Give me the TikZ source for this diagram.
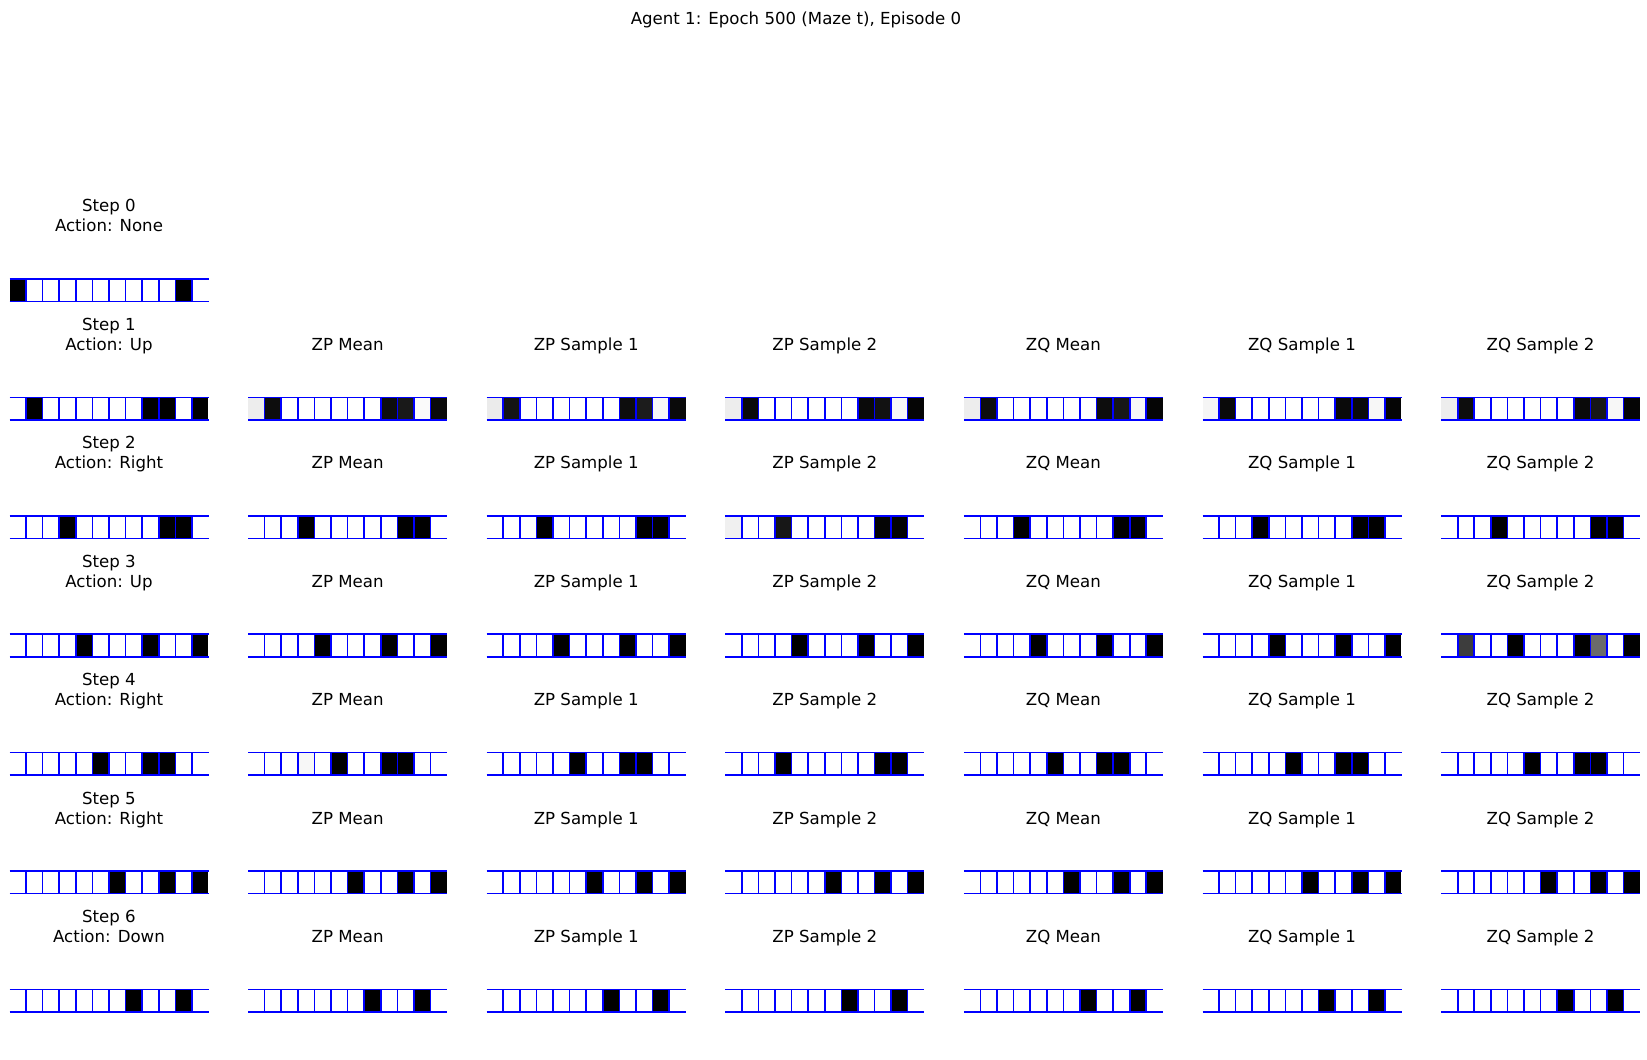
\documentclass[tikz,border=0pt]{standalone}
\usepackage{fontspec}
\setmainfont{DejaVu Sans}
\definecolor{GridBlue}{HTML}{0000FF}

\begin{document}
\begin{tikzpicture}[x=0.5pt,y=-0.5pt,
  ttl/.style={font=\fontsize{8.3}{10}\selectfont,align=center,anchor=base,inner sep=0pt},
  gridline/.style={draw=GridBlue,line width=0.8pt}]
  \useasboundingbox[fill=white] (0,0) rectangle (1647,1059);
  \node[ttl] (main) at (796,25) {Agent 1: Epoch 500 (Maze t), Episode 0};
  % titles of the first column
  \foreach \r/\act in {0/None,1/Up,2/Right,3/Up,4/Right,5/Right,6/Down}
    \node[ttl] (step\r) at (109,{279+118.4*\r-47}) {Step \r\\Action: \act};
  % titles of the latent columns
  \foreach \r in {1,...,6}
    \foreach \c/\lbl in {1/ZP Mean,2/ZP Sample 1,3/ZP Sample 2,4/ZQ Mean,5/ZQ Sample 1,6/ZQ Sample 2}
      \node[ttl] (t\r-\c) at ({109+238.6*\c},{279+118.4*\r-47}) {\lbl};
  % strips: row/column/{cell/darkness}
  \foreach \r/\c/\cells in {
    0/0/{0/100,10/100},
    1/0/{1/100,8/100,9/100,11/100},
    1/1/{0/7,1/95,8/95,9/90,10/2,11/96},
    1/2/{0/8,1/92,8/95,9/89,10/3,11/96},
    1/3/{0/7,1/96,8/96,9/93,10/3,11/98},
    1/4/{0/7,1/95,8/95,9/91,10/3,11/98},
    1/5/{0/4,1/96,8/96,9/96,10/3,11/98},
    1/6/{0/7,1/95,8/96,9/91,10/3,11/98},
    2/0/{3/100,9/100,10/100}, 2/1/{3/100,9/100,10/100},
    2/2/{3/100,9/100,10/100}, 2/3/{0/6,3/91,9/98,10/99},
    2/4/{3/100,9/100,10/100}, 2/5/{3/100,9/100,10/100},
    2/6/{3/100,9/100,10/100},
    3/0/{4/100,8/100,11/100}, 3/1/{4/100,8/100,11/100},
    3/2/{4/100,8/100,11/100}, 3/3/{4/100,8/100,11/100},
    3/4/{4/100,8/100,11/100}, 3/5/{4/100,8/100,11/100},
    3/6/{1/76,4/100,8/100,9/58,11/100},
    4/0/{5/100,8/100,9/100}, 4/1/{3/3,5/100,8/100,9/100},
    4/2/{5/100,8/100,9/100}, 4/3/{3/100,9/100,10/100},
    4/4/{5/100,8/100,9/100}, 4/5/{5/100,8/100,9/100},
    4/6/{5/100,8/100,9/100},
    5/0/{6/100,9/100,11/100}, 5/1/{6/100,9/100,11/100},
    5/2/{6/100,9/100,11/100}, 5/3/{6/100,9/100,11/100},
    5/4/{6/100,9/100,11/100}, 5/5/{6/100,9/100,11/100},
    5/6/{6/100,9/100,11/100},
    6/0/{7/100,10/100}, 6/1/{7/100,10/100}, 6/2/{7/100,10/100},
    6/3/{7/100,10/100}, 6/4/{7/100,10/100}, 6/5/{7/100,10/100},
    6/6/{7/100,10/100}}{
    \pgfmathsetmacro\L{9.5+238.6*\c}
    \pgfmathsetmacro\T{279+118.4*\r}
    \foreach \k/\v in \cells
      \fill[black!\v] ({\L+16.58*\k},\T) rectangle ++(16.58,22.5);
    \draw[gridline] (\L,\T) -- ++(199,0) (\L,\T+22.5) -- ++(199,0);
    \foreach \k in {1,...,11}
      \draw[gridline] ({\L+16.58*\k},\T) -- ++(0,22.5);
  }
\end{tikzpicture}
\end{document}
